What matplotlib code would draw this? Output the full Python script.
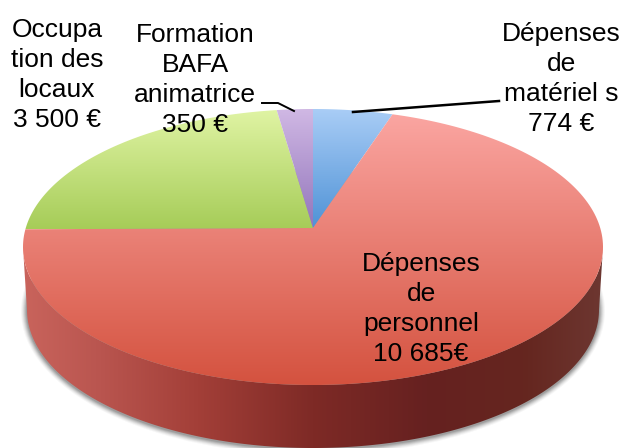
import numpy as np
import matplotlib
matplotlib.use("Agg")
import matplotlib.pyplot as plt
from matplotlib.colors import LinearSegmentedColormap
from matplotlib.patches import Polygon, Ellipse

plt.rcParams["font.family"] = ["Liberation Sans", "DejaVu Sans"]

# data
names = ["Dépenses\nde\nmatériel s\n774 €", "Dépenses\nde\npersonnel\n10 685€",
         "Occupa\ntion des\nlocaux\n3 500 €", "Formation\nBAFA\nanimatrice\n350 €"]
values = [774, 10685, 3500, 350]
label_x = [561, 421, 57, 195]
label_y = [79, 309, 75, 80]

# colours top -> bottom of each slice
slice_colors = [("#a9cdf6", "#4f92d6"), ("#fba6a2", "#d4523f"),
                ("#e0f4a4", "#a6cc58"), ("#d0b8e4", "#9275bb")]
slice_y = [(109, 228), (112, 385), (109, 229), (109, 228)]
side_x = [27, 100, 200, 313, 425, 520, 598]
side_c = ["#c9645c", "#ba5650", "#a33f38", "#7e2a26", "#662120", "#65261f", "#6d3731"]

# top ellipse, bottom ellipse, apex of the slices (perspective puts it above the centre)
CX, CY, RX, RY = 313, 247, 290, 138
BX, BY, BRX, BRY = 313, 310, 286, 138
AX, AY = 313, 228
SQUASH = 0.47


def rim_points(theta):
    # ray from the apex hitting the top ellipse, theta clockwise from 12 o'clock
    dx, dy = np.sin(theta), -SQUASH * np.cos(theta)
    a = (dx / RX) ** 2 + (dy / RY) ** 2
    b = 2 * (AY - CY) * dy / RY ** 2
    c = ((AY - CY) / RY) ** 2 - 1
    t = (-b + np.sqrt(b ** 2 - 4 * a * c)) / (2 * a)
    return AX + t * dx, AY + t * dy


def gradient(ax, patch, colors, extent, horizontal=False):
    cmap = LinearSegmentedColormap.from_list("g", colors)
    g = np.linspace(0, 1, 256)
    g = g.reshape(1, -1) if horizontal else g.reshape(-1, 1)
    im = ax.imshow(g, cmap=cmap, extent=extent, aspect="auto", zorder=patch.get_zorder(),
                   interpolation="bilinear")
    ax.add_patch(patch)
    patch.set_visible(False)
    im.set_clip_path(patch.get_path(), patch.get_transform())


fig = plt.figure(figsize=(6.25, 4.48), dpi=100)
ax = fig.add_axes([0, 0, 1, 1])

# soft shadow under the side
for grow, alpha in zip([6, 5, 4, 3, 2, 1], [0.05, 0.07, 0.1, 0.14, 0.18, 0.22]):
    ax.add_patch(Ellipse((BX, BY + 1), 2 * (BRX + grow), 2 * (BRY + grow), fc="#555555",
                         ec="none", alpha=alpha, zorder=1))

# side of the cake
u = np.linspace(np.pi, 0, 300)
top_arc = np.c_[CX + RX * np.cos(u), CY + RY * np.sin(u)]
bot_arc = np.c_[BX + BRX * np.cos(u), BY + BRY * np.sin(u)]
side = Polygon(np.r_[top_arc, bot_arc[::-1]], closed=True, zorder=2)
pos = [(x - side_x[0]) / (side_x[-1] - side_x[0]) for x in side_x]
cmap_side = list(zip(pos, side_c))
gradient(ax, side, cmap_side, (side_x[0] - 6, side_x[-1] + 6, 448, 200), horizontal=True)

# slices, clockwise from 12 o'clock
edges = np.cumsum([0] + values) / sum(values) * 2 * np.pi
for i in range(len(values)):
    th = np.linspace(edges[i], edges[i + 1], 200)
    rx, ry = rim_points(th)
    pts = np.r_[[[AX, AY]], np.c_[rx, ry]]
    wedge = Polygon(pts, closed=True, zorder=3 + i)
    y0, y1 = slice_y[i]
    gradient(ax, wedge, list(slice_colors[i]), (0, 625, y1, y0))

# leader lines
ax.plot([262, 278, 294], [103, 103, 111], color="black", lw=1.4, zorder=10)
ax.plot([353, 499], [112, 101], color="black", lw=1.8, zorder=10)

for name, x, y in zip(names, label_x, label_y):
    ax.text(x, y, name, ha="center", va="center", fontsize=19, color="black",
            linespacing=1.33, zorder=11)

ax.set_xlim(0, 625)
ax.set_ylim(448, 0)
ax.axis("off")
fig.savefig("out.png", dpi=100)
